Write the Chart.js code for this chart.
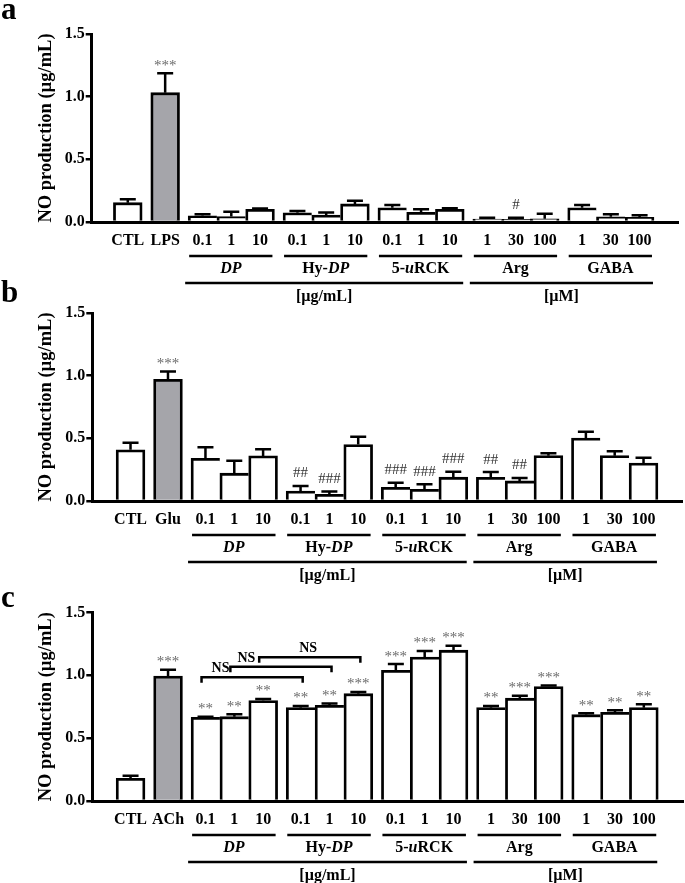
<!DOCTYPE html>
<html><head><meta charset="utf-8">
<script src="https://cdn.jsdelivr.net/npm/chart.js@4.4.1/dist/chart.umd.min.js"></script>
<style>
html,body{margin:0;padding:0;background:#fff;}
body{width:685px;height:883px;position:relative;overflow:hidden;}
canvas{position:absolute;left:0;}
</style></head><body>
<canvas id="pa" width="685" height="320" style="top:0px"></canvas>
<canvas id="pb" width="685" height="320" style="top:279px"></canvas>
<canvas id="pc" width="685" height="305" style="top:578px"></canvas>
<script>
// ---------- data ----------
const groupOfBar = [0,1,2,2,2,3,3,3,4,4,4,5,5,5,6,6,6];
const groupNames = ['', '', '<i>DP</i>', 'Hy-<i>DP</i>', '5-<i>u</i>RCK', 'Arg', 'GABA'];
const unitLabels = ['[µg/mL]', '[µM]'];
const unitFirstGroup = [2, 5];
const unitLastGroup = [4, 6];
const doseLabels = ['0.1','1','10','0.1','1','10','0.1','1','10','1','30','100','1','30','100'];
const labelsA = ['CTL','LPS'].concat(doseLabels);
const labelsB = ['CTL','Glu'].concat(doseLabels);
const labelsC = ['CTL','ACh'].concat(doseLabels);
const yTicks = [0, 0.5, 1.0, 1.5];
const yTitle = 'NO production (µg/mL)';

const meansA = [0.154, 1.032, 0.050, 0.043, 0.102, 0.074, 0.056, 0.144, 0.114, 0.077, 0.101, 0.024, 0.021, 0.026, 0.114, 0.042, 0.037];
const errsA  = [0.027, 0.155, 0.012, 0.038, 0.005, 0.014, 0.020, 0.026, 0.022, 0.025, 0.008, 0.010, 0.012, 0.040, 0.022, 0.020, 0.016];
const sigA   = ['', '***', '', '', '', '', '', '', '', '', '', '', '#', '', '', '', ''];

const meansB = [0.408, 0.971, 0.341, 0.222, 0.360, 0.080, 0.054, 0.450, 0.110, 0.093, 0.190, 0.189, 0.160, 0.362, 0.503, 0.362, 0.303];
const errsB  = [0.056, 0.062, 0.088, 0.100, 0.053, 0.040, 0.021, 0.063, 0.036, 0.040, 0.043, 0.042, 0.024, 0.018, 0.050, 0.034, 0.043];
const sigB   = ['', '***', '', '', '', '##', '###', '', '###', '###', '###', '##', '##', '', '', '', ''];

const meansC = [0.180, 0.995, 0.666, 0.671, 0.800, 0.743, 0.762, 0.854, 1.040, 1.146, 1.200, 0.743, 0.818, 0.910, 0.687, 0.706, 0.743];
const errsC  = [0.020, 0.050, 0.004, 0.020, 0.012, 0.013, 0.013, 0.014, 0.050, 0.048, 0.036, 0.013, 0.020, 0.010, 0.011, 0.016, 0.027];
const sigC   = ['', '***', '**', '**', '**', '**', '**', '***', '***', '***', '***', '**', '***', '***', '**', '**', '**'];

const bracketFrom = [2, 3, 4];
const bracketTo   = [5, 6, 7];
const bracketY    = [0.985, 1.069, 1.144];
const bracketText = ['NS', 'NS', 'NS'];

// ---------- drawing ----------
const FONT = "'Liberation Serif','Times New Roman',serif";
Chart.defaults.font.family = FONT;
const GAP = 0.3;
const xPos = groupOfBar.map((g, j) => j + GAP * g);
const lastInGroup = groupOfBar.map((g, j) => j === groupOfBar.length - 1 || groupOfBar[j + 1] !== g);
const BW = 2.8;

function drawRich(ctx, str, cx, cy, size) {
  const parts = str.split(/(<i>.*?<\/i>)/).filter(s => s.length);
  const segs = parts.map(p => {
    const it = p.startsWith('<i>');
    const t = it ? p.slice(3, -4) : p;
    const f = (it ? 'italic ' : '') + 'bold ' + size + 'px ' + FONT;
    ctx.font = f;
    return {t, f, w: ctx.measureText(t).width};
  });
  const total = segs.reduce((a, s) => a + s.w, 0);
  let x = cx - total / 2;
  ctx.textAlign = 'left'; ctx.textBaseline = 'middle';
  segs.forEach(s => { ctx.font = s.f; ctx.fillText(s.t, x, cy); x += s.w; });
}

function annotPlugin(cfg) {
  return {
    id: 'annot' + cfg.letter,
    afterDatasetsDraw(chart) {
      const ctx = chart.ctx, ys = chart.scales.y;
      const meta = chart.getDatasetMeta(0);
      ctx.save();
      ctx.strokeStyle = '#000'; ctx.lineWidth = 2.5; ctx.lineCap = 'butt';
      meta.data.forEach((bar, i) => {
        const x = bar.x;
        const yTop = ys.getPixelForValue(cfg.means[i]);
        const yCap = ys.getPixelForValue(cfg.means[i] + cfg.errs[i]);
        ctx.beginPath();
        ctx.moveTo(x, yTop); ctx.lineTo(x, yCap);
        ctx.moveTo(x - 8, yCap); ctx.lineTo(x + 8, yCap);
        ctx.stroke();
        const s = cfg.sig[i];
        if (s) {
          const star = s[0] === '*';
          ctx.font = '15px ' + FONT;
          ctx.fillStyle = star ? '#6a6a6a' : '#333';
          ctx.textAlign = 'center'; ctx.textBaseline = 'alphabetic';
          ctx.fillText(s, x, star ? yCap - 3.5 : yCap - 8.5);
        }
      });
      ctx.restore();
    },
    afterDraw(chart) {
      const ctx = chart.ctx, xs = chart.scales.x, ys = chart.scales.y;
      const y0 = ys.getPixelForValue(0);
      const px = v => xs.getPixelForValue(v);
      ctx.save();
      ctx.strokeStyle = '#000'; ctx.fillStyle = '#000'; ctx.lineWidth = 2.5;
      const barsOf = g => groupOfBar.map((gg, j) => gg === g ? j : -1).filter(j => j >= 0);
      for (let g = 2; g < groupNames.length; g++) {
        const idx = barsOf(g);
        const xl = px(xPos[idx[0]] - 0.5) + 1;
        const xr = px(xPos[idx[idx.length - 1]] + 0.5) - 2;
        ctx.beginPath(); ctx.moveTo(xl, y0 + 34); ctx.lineTo(xr, y0 + 34); ctx.stroke();
        drawRich(ctx, groupNames[g], (xl + xr) / 2, y0 + 46.5, 16);
      }
      unitLabels.forEach((u, k) => {
        const a = barsOf(unitFirstGroup[k]), b = barsOf(unitLastGroup[k]);
        const xl = px(xPos[a[0]] - 0.5) - 3;
        const xr = px(xPos[b[b.length - 1]] + 0.5) - 1;
        ctx.beginPath(); ctx.moveTo(xl, y0 + 61); ctx.lineTo(xr, y0 + 61); ctx.stroke();
        drawRich(ctx, u, (xl + xr) / 2, y0 + 74.5, 16);
      });
      if (cfg.brackets) {
        const labOff = [19, 16, 49];
        bracketFrom.forEach((f, k) => {
          const xl = px(xPos[f]) - 4, xr = px(xPos[bracketTo[k]]) + 2;
          const yb = ys.getPixelForValue(bracketY[k]);
          ctx.beginPath();
          ctx.moveTo(xl, yb + 5.5); ctx.lineTo(xl, yb); ctx.lineTo(xr, yb); ctx.lineTo(xr, yb + 5.5);
          ctx.stroke();
          ctx.font = 'bold 14px ' + FONT;
          ctx.textAlign = 'center'; ctx.textBaseline = 'middle';
          ctx.fillText(bracketText[k], xl + labOff[k], yb - 8.5);
        });
      }
      ctx.font = 'bold 31px ' + FONT;
      ctx.textAlign = 'left'; ctx.textBaseline = 'alphabetic';
      ctx.fillText(cfg.letter, 1, cfg.letterY);
      ctx.restore();
    }
  };
}

function makePanel(id, cfg) {
  const canvas = document.getElementById(id);
  const H = canvas.height;
  return new Chart(canvas, {
    type: 'bar',
    data: {
      datasets: [{
        data: cfg.means.map((v, i) => ({x: xPos[i], y: v})),
        backgroundColor: cfg.means.map((v, i) => i === 1 ? '#a5a5aa' : '#ffffff'),
        borderColor: '#000',
        borderWidth: c => ({top: BW, left: BW, right: lastInGroup[c.dataIndex] ? BW : 0, bottom: 0}),
        borderSkipped: false,
        barPercentage: 1,
        categoryPercentage: 1
      }]
    },
    options: {
      responsive: false, animation: false, devicePixelRatio: 1,
      layout: {padding: {left: 0, right: 685 - cfg.axisRight, top: cfg.yTop, bottom: 0}},
      plugins: {legend: {display: false}, tooltip: {enabled: false}},
      scales: {
        x: {
          type: 'linear', min: cfg.xMin, max: cfg.xMax, bounds: 'data',
          afterBuildTicks: s => { s.ticks = xPos.map(v => ({value: v})); },
          afterFit: s => { s.height = H - cfg.yBottom; },
          ticks: {autoSkip: false, maxRotation: 0, minRotation: 0, padding: 9,
                  font: {family: FONT, size: 16, weight: 'bold'}, color: '#000',
                  callback: (v, i) => cfg.labels[i]},
          grid: {display: false, drawTicks: false},
          border: {display: true, width: 3, color: '#000'}
        },
        y: {
          min: 0, max: 1.5,
          afterBuildTicks: s => { s.ticks = yTicks.map(v => ({value: v})); },
          afterFit: s => { s.width = cfg.axisLeft; },
          ticks: {padding: 1, font: {family: FONT, size: 16, weight: 'bold'}, color: '#000',
                  callback: v => Number(v).toFixed(1)},
          grid: {drawOnChartArea: false, drawTicks: true, tickLength: 6, lineWidth: 2.5, color: '#000'},
          border: {display: true, width: 3, color: '#000'},
          title: {display: true, text: yTitle, color: '#000',
                  font: {family: FONT, size: 18.5, weight: 'bold'}, padding: {top: 35, bottom: 0}}
        }
      }
    },
    plugins: [annotPlugin(cfg)]
  });
}

makePanel('pa', {letter: 'a', letterY: 18.5, labels: labelsA, means: meansA, errs: errsA, sig: sigA,
  axisLeft: 91.7, axisRight: 678.3, yTop: 34, yBottom: 222, xMin: -0.655, xMax: 18.546});
makePanel('pb', {letter: 'b', letterY: 23, labels: labelsB, means: meansB, errs: errsB, sig: sigB,
  axisLeft: 92.3, axisRight: 682.5, yTop: 34, yBottom: 222, xMin: -0.724, xMax: 18.55});
makePanel('pc', {letter: 'c', letterY: 28.7, labels: labelsC, means: meansC, errs: errsC, sig: sigC, brackets: true,
  axisLeft: 92.3, axisRight: 683.3, yTop: 34.5, yBottom: 223, xMin: -0.724, xMax: 18.566});
</script>
</body></html>
